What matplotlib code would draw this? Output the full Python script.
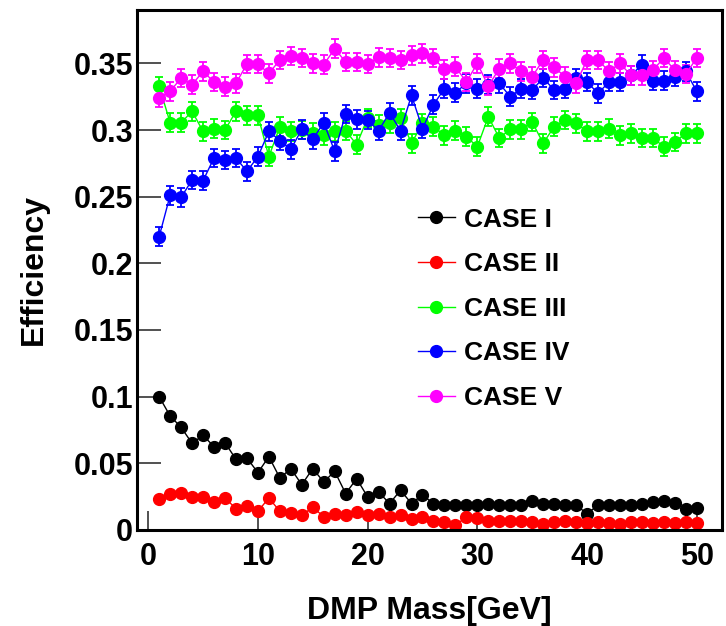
import matplotlib
matplotlib.use("Agg")
import matplotlib.pyplot as plt
from matplotlib.lines import Line2D

plt.rcParams['font.family'] = ['Liberation Sans', 'DejaVu Sans']
plt.rcParams['font.weight'] = 'bold'

mass = list(range(1, 51))

case_I = [0.100, 0.0855, 0.077, 0.065, 0.071, 0.0625, 0.0655, 0.053, 0.054, 0.043,
          0.055, 0.039, 0.046, 0.034, 0.046, 0.036, 0.044, 0.0273, 0.0385, 0.0248,
          0.0285, 0.0198, 0.0298, 0.0198, 0.0265, 0.0195, 0.019, 0.019, 0.0185, 0.019,
          0.0195, 0.019, 0.0185, 0.019, 0.0215, 0.0198, 0.0195, 0.019, 0.0185, 0.0123,
          0.0185, 0.019, 0.019, 0.0185, 0.0195, 0.021, 0.0215, 0.020, 0.016, 0.0165]
case_II = [0.023, 0.027, 0.028, 0.025, 0.025, 0.021, 0.024, 0.016, 0.018, 0.014,
           0.024, 0.014, 0.013, 0.011, 0.017, 0.010, 0.0123, 0.0115, 0.0135, 0.011,
           0.012, 0.0098, 0.011, 0.0085, 0.0098, 0.007, 0.006, 0.0035, 0.0098, 0.009,
           0.007, 0.0065, 0.007, 0.0065, 0.006, 0.0045, 0.006, 0.0065, 0.006, 0.0055,
           0.006, 0.0055, 0.0045, 0.006, 0.006, 0.0055, 0.006, 0.0055, 0.006, 0.0055]
case_III = [0.333, 0.3055, 0.3055, 0.314, 0.299, 0.301, 0.300, 0.314, 0.311, 0.311,
            0.280, 0.3025, 0.299, 0.300, 0.298, 0.296, 0.299, 0.2995, 0.289, 0.309,
            0.304, 0.305, 0.309, 0.290, 0.305, 0.3025, 0.296, 0.2995, 0.295, 0.2875,
            0.310, 0.294, 0.3005, 0.3005, 0.306, 0.290, 0.3025, 0.3075, 0.305, 0.299,
            0.299, 0.301, 0.296, 0.2975, 0.294, 0.294, 0.2875, 0.291, 0.2975, 0.2975]
case_IV = [0.220, 0.251, 0.2495, 0.2625, 0.262, 0.279, 0.2775, 0.279, 0.269, 0.280,
           0.299, 0.292, 0.2855, 0.3005, 0.293, 0.3055, 0.284, 0.312, 0.308, 0.3075,
           0.2995, 0.313, 0.2995, 0.326, 0.301, 0.319, 0.331, 0.328, 0.335, 0.331,
           0.334, 0.335, 0.325, 0.331, 0.330, 0.339, 0.330, 0.331, 0.339, 0.336,
           0.3275, 0.336, 0.336, 0.341, 0.349, 0.337, 0.337, 0.340, 0.344, 0.329]
case_V = [0.324, 0.329, 0.339, 0.334, 0.344, 0.336, 0.3325, 0.335, 0.3495, 0.3495,
          0.3425, 0.3525, 0.3555, 0.354, 0.350, 0.349, 0.361, 0.351, 0.351, 0.3495,
          0.3545, 0.354, 0.3525, 0.356, 0.3575, 0.354, 0.3455, 0.3475, 0.336, 0.350,
          0.333, 0.346, 0.350, 0.344, 0.340, 0.3526, 0.347, 0.340, 0.335, 0.3526,
          0.3526, 0.344, 0.350, 0.341, 0.341, 0.345, 0.354, 0.345, 0.342, 0.354]

labels = ['CASE I', 'CASE II', 'CASE III', 'CASE IV', 'CASE V']
colors = ['#000000', '#ff0000', '#00ff00', '#0000ff', '#ff00ff']
errors = [0.002, 0.002, 0.007, 0.007, 0.007]
series = [case_I, case_II, case_III, case_IV, case_V]

yticks = [0, 0.05, 0.1, 0.15, 0.2, 0.25, 0.3, 0.35]
ytick_labels = ['0', '0.05', '0.1', '0.15', '0.2', '0.25', '0.3', '0.35']
xticks = [0, 10, 20, 30, 40, 50]

fig = plt.figure(figsize=(7.26, 6.26), dpi=100)
ax = fig.add_axes([0.189, 0.1534, 0.8055, 0.8306])

handles = []
for vals, lab, col, err in zip(series, labels, colors, errors):
    ax.errorbar(mass, vals, yerr=err, color=col, ecolor=col, marker='o',
                markersize=8.5, linewidth=1, elinewidth=1.3, capsize=3,
                capthick=1.3)
    handles.append(Line2D([], [], color=col, marker='o', markersize=8.5,
                          linewidth=1, label=lab))

ax.set_xlim(-1, 52.3)
ax.set_ylim(0, 0.39)
ax.set_xticks(xticks)
ax.set_yticks(yticks)
ax.set_yticklabels(ytick_labels)
ax.tick_params(axis='both', direction='in', labelsize=22, width=1.2, color='#333333')
ax.tick_params(axis='y', length=17, pad=3)
ax.tick_params(axis='x', length=14, pad=9)
for lbl in ax.get_xticklabels() + ax.get_yticklabels():
    lbl.set_fontweight('bold')
for sp in ax.spines.values():
    sp.set_linewidth(2.2)

ax.set_xlabel('DMP Mass[GeV]', fontsize=23, fontweight='bold', labelpad=17)
ax.set_ylabel('Efficiency', fontsize=23, fontweight='bold', labelpad=18)

leg = ax.legend(handles=handles, loc='upper left', bbox_to_anchor=(0.48, 0.62),
                frameon=False, fontsize=19, handlelength=1.4, handletextpad=0.35,
                labelspacing=0.78, borderpad=0, borderaxespad=0)
for t in leg.get_texts():
    t.set_fontweight('bold')

fig.savefig('out.png', dpi=100)
